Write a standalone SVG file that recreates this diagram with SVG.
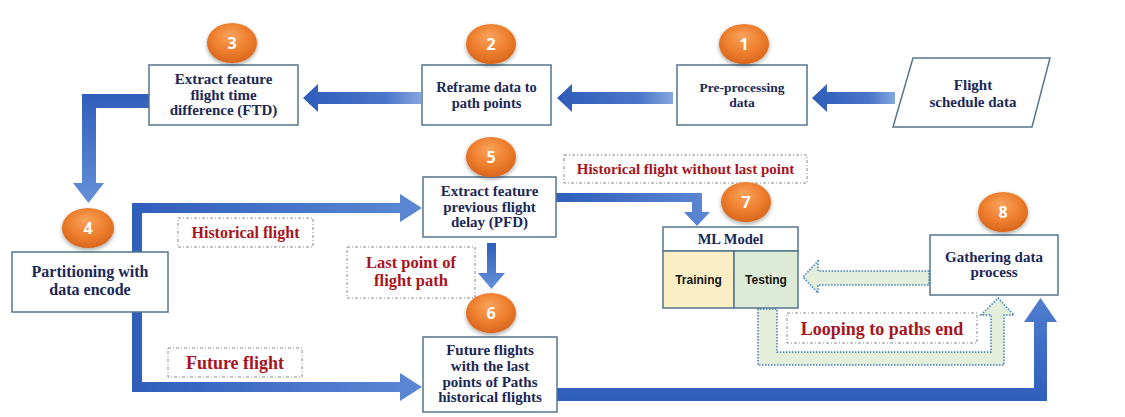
<svg xmlns="http://www.w3.org/2000/svg" width="1125" height="417" viewBox="0 0 1125 417">
<defs>
<radialGradient id="org" cx="50%" cy="40%" r="60%" fx="45%" fy="30%">
<stop offset="0" stop-color="#F8A35C"/>
<stop offset="0.6" stop-color="#EE7F2E"/>
<stop offset="1" stop-color="#D8651C"/>
</radialGradient>
<linearGradient id="gL" x1="0" y1="0" x2="1" y2="0">
<stop offset="0" stop-color="#2E5CB8"/>
<stop offset="0.7" stop-color="#4A76C9"/>
<stop offset="1" stop-color="#84A6DF"/>
</linearGradient>
<linearGradient id="gR" x1="0" y1="0" x2="1" y2="0">
<stop offset="0" stop-color="#2F5EBB"/>
<stop offset="1" stop-color="#5D88D4"/>
</linearGradient>
<linearGradient id="gD" x1="0" y1="0" x2="0" y2="1">
<stop offset="0" stop-color="#2F5EBB"/>
<stop offset="1" stop-color="#6690D8"/>
</linearGradient>
<linearGradient id="gU" x1="0" y1="1" x2="0" y2="0">
<stop offset="0" stop-color="#2F5EBB"/>
<stop offset="1" stop-color="#4F7DCF"/>
</linearGradient>
<filter id="sh" x="-30%" y="-30%" width="160%" height="170%">
<feGaussianBlur in="SourceAlpha" stdDeviation="2"/>
<feOffset dx="0" dy="2" result="b"/>
<feComponentTransfer><feFuncA type="linear" slope="0.35"/></feComponentTransfer>
<feMerge><feMergeNode/><feMergeNode in="SourceGraphic"/></feMerge>
</filter>
</defs>
<style>
.box{fill:#fff;stroke:#55768F;stroke-width:1.5}
.t{font-family:"Liberation Serif","Times New Roman",serif;font-weight:bold;fill:#1B2756;text-anchor:middle}
.r{font-family:"Liberation Serif","Times New Roman",serif;font-weight:bold;fill:#A8141B;text-anchor:middle}
.lab{fill:#fff;stroke:#8A8A8A;stroke-width:1;stroke-dasharray:3 2 1 2}
.num{font-family:"Open Sans","Liberation Sans",sans-serif;font-weight:bold;font-size:16px;fill:#fff;text-anchor:middle}
.c{fill:url(#org);filter:url(#sh)}
.hol{fill:#E3EFDB;stroke:#3C7DBA;stroke-width:1.5;stroke-dasharray:1.5 1.5}
.s{font-family:"Liberation Sans",Arial,sans-serif;font-weight:bold;font-size:12px;fill:#151515;text-anchor:middle}
</style>
<rect width="1125" height="417" fill="#fff"/>

<g id="connectors">
<polygon points="895,92 827,92 827,84 812,98 827,112 827,104 895,104" fill="url(#gL)"/>
<polygon points="673,92 572,92 572,84 557,98 572,112 572,104 673,104" fill="url(#gL)"/>
<polygon points="421,92 318,92 318,84 303,98 318,112 318,104 421,104" fill="url(#gL)"/>
<polygon points="149,94 82,94 82,183 73,183 88.5,203 104,183 96,183 96,108 149,108" fill="url(#gD)"/>
<polygon points="132,252 132,203 400,203 400,194 422,208 400,222 400,213 142,213 142,252" fill="url(#gR)"/>
<polygon points="132,312 132,392 400,392 400,401 422,387 400,373 400,382 142,382 142,312" fill="url(#gR)"/>
<polygon points="487,243 496,243 496,273 505,273 491.5,289 478,273 487,273" fill="url(#gD)"/>
<polygon points="556,193 702,193 702,212 710,212 697,226 684,212 692,212 692,202 556,202" fill="url(#gR)"/>
<polygon points="557,388 1034,388 1034,322 1024,322 1040.5,298 1057,322 1047,322 1047,401 557,401" fill="url(#gU)"/>
<polygon class="hol" points="929,271 818,271 818,261 803,277 818,293 818,285 929,285"/>
<polygon class="hol" points="758,309 758,365 1004,365 1004,315 1014,315 998,298 981,315 991,315 991,352 777,352 777,309"/>
</g>

<g id="label-hist-without">
<rect class="lab" x="564" y="155" width="243" height="28"/>
<text class="r" x="685.5" y="174" font-size="15">Historical flight without last point</text>
</g>
<g id="label-historical">
<rect class="lab" x="178" y="218" width="135" height="29"/>
<text class="r" x="245.5" y="238" font-size="16">Historical flight</text>
</g>
<g id="label-future">
<rect class="lab" x="168" y="348" width="134" height="29"/>
<text class="r" x="235" y="369" font-size="18">Future flight</text>
</g>
<g id="label-last">
<rect class="lab" x="347" y="247" width="128" height="51"/>
<text class="r" x="411" y="268" font-size="16.5">Last point of</text>
<text class="r" x="411" y="286" font-size="16.5">flight path</text>
</g>
<g id="label-loop">
<rect class="lab" x="787" y="313" width="190" height="30"/>
<text class="r" x="882" y="335" font-size="18">Looping to paths end</text>
</g>

<g id="node-schedule">
<polygon class="box" points="913,58 1050,58 1032,127 893,127"/>
<text class="t" x="973" y="90" font-size="15">Flight</text>
<text class="t" x="973" y="107" font-size="15">schedule data</text>
</g>
<g id="node-1">
<rect class="box" x="677" y="65" width="130" height="60"/>
<text class="t" x="742" y="92" font-size="13.5">Pre-processing</text>
<text class="t" x="742" y="107" font-size="13.5">data</text>
<ellipse class="c" cx="744" cy="44" rx="25" ry="20"/>
<text class="num" x="744" y="50">1</text>
</g>
<g id="node-2">
<rect class="box" x="422" y="65" width="129" height="60"/>
<text class="t" x="486.5" y="92" font-size="14.5">Reframe data to</text>
<text class="t" x="486.5" y="108" font-size="14.5">path points</text>
<ellipse class="c" cx="491" cy="44" rx="25" ry="20"/>
<text class="num" x="491" y="50">2</text>
</g>
<g id="node-3">
<rect class="box" x="149" y="65" width="149" height="60"/>
<text class="t" x="223.5" y="84" font-size="15">Extract feature</text>
<text class="t" x="223.5" y="100" font-size="15">flight time</text>
<text class="t" x="223.5" y="115" font-size="15">difference (FTD)</text>
<ellipse class="c" cx="232" cy="43" rx="25" ry="20"/>
<text class="num" x="232" y="49">3</text>
</g>
<g id="node-4">
<rect class="box" x="12" y="252" width="156" height="60"/>
<text class="t" x="90" y="277" font-size="16">Partitioning with</text>
<text class="t" x="90" y="295" font-size="16">data encode</text>
<ellipse class="c" cx="88" cy="228" rx="26" ry="20"/>
<text class="num" x="88" y="234">4</text>
</g>
<g id="node-5">
<rect class="box" x="423" y="177" width="133" height="60"/>
<text class="t" x="489.5" y="196" font-size="15">Extract feature</text>
<text class="t" x="489.5" y="212" font-size="15">previous flight</text>
<text class="t" x="489.5" y="227" font-size="15">delay (PFD)</text>
<ellipse class="c" cx="491" cy="157" rx="25" ry="20"/>
<text class="num" x="491" y="163">5</text>
</g>
<g id="node-6">
<rect class="box" x="423" y="337" width="134" height="75"/>
<text class="t" x="490" y="355" font-size="15">Future flights</text>
<text class="t" x="490" y="371" font-size="15">with the last</text>
<text class="t" x="490" y="387" font-size="15">points of Paths</text>
<text class="t" x="490" y="402" font-size="15">historical flights</text>
<ellipse class="c" cx="491" cy="313" rx="25" ry="20"/>
<text class="num" x="491" y="319">6</text>
</g>
<g id="node-7">
<rect class="box" x="663" y="227" width="135" height="24"/>
<text class="t" x="730.5" y="244" font-size="14.5">ML Model</text>
<rect x="663" y="251" width="71" height="57" fill="#FCEEC4" stroke="#55768F" stroke-width="1.5"/>
<rect x="734" y="251" width="64" height="57" fill="#DCEAD6" stroke="#55768F" stroke-width="1.5"/>
<text class="s" x="698.5" y="284">Training</text>
<text class="s" x="766" y="284">Testing</text>
<ellipse class="c" cx="746" cy="202" rx="25" ry="20"/>
<text class="num" x="746" y="208">7</text>
</g>
<g id="node-8">
<rect class="box" x="930" y="235" width="128" height="60"/>
<text class="t" x="994" y="262" font-size="15">Gathering data</text>
<text class="t" x="994" y="277" font-size="15">process</text>
<ellipse class="c" cx="1003" cy="212" rx="25" ry="20"/>
<text class="num" x="1003" y="218">8</text>
</g>
</svg>
